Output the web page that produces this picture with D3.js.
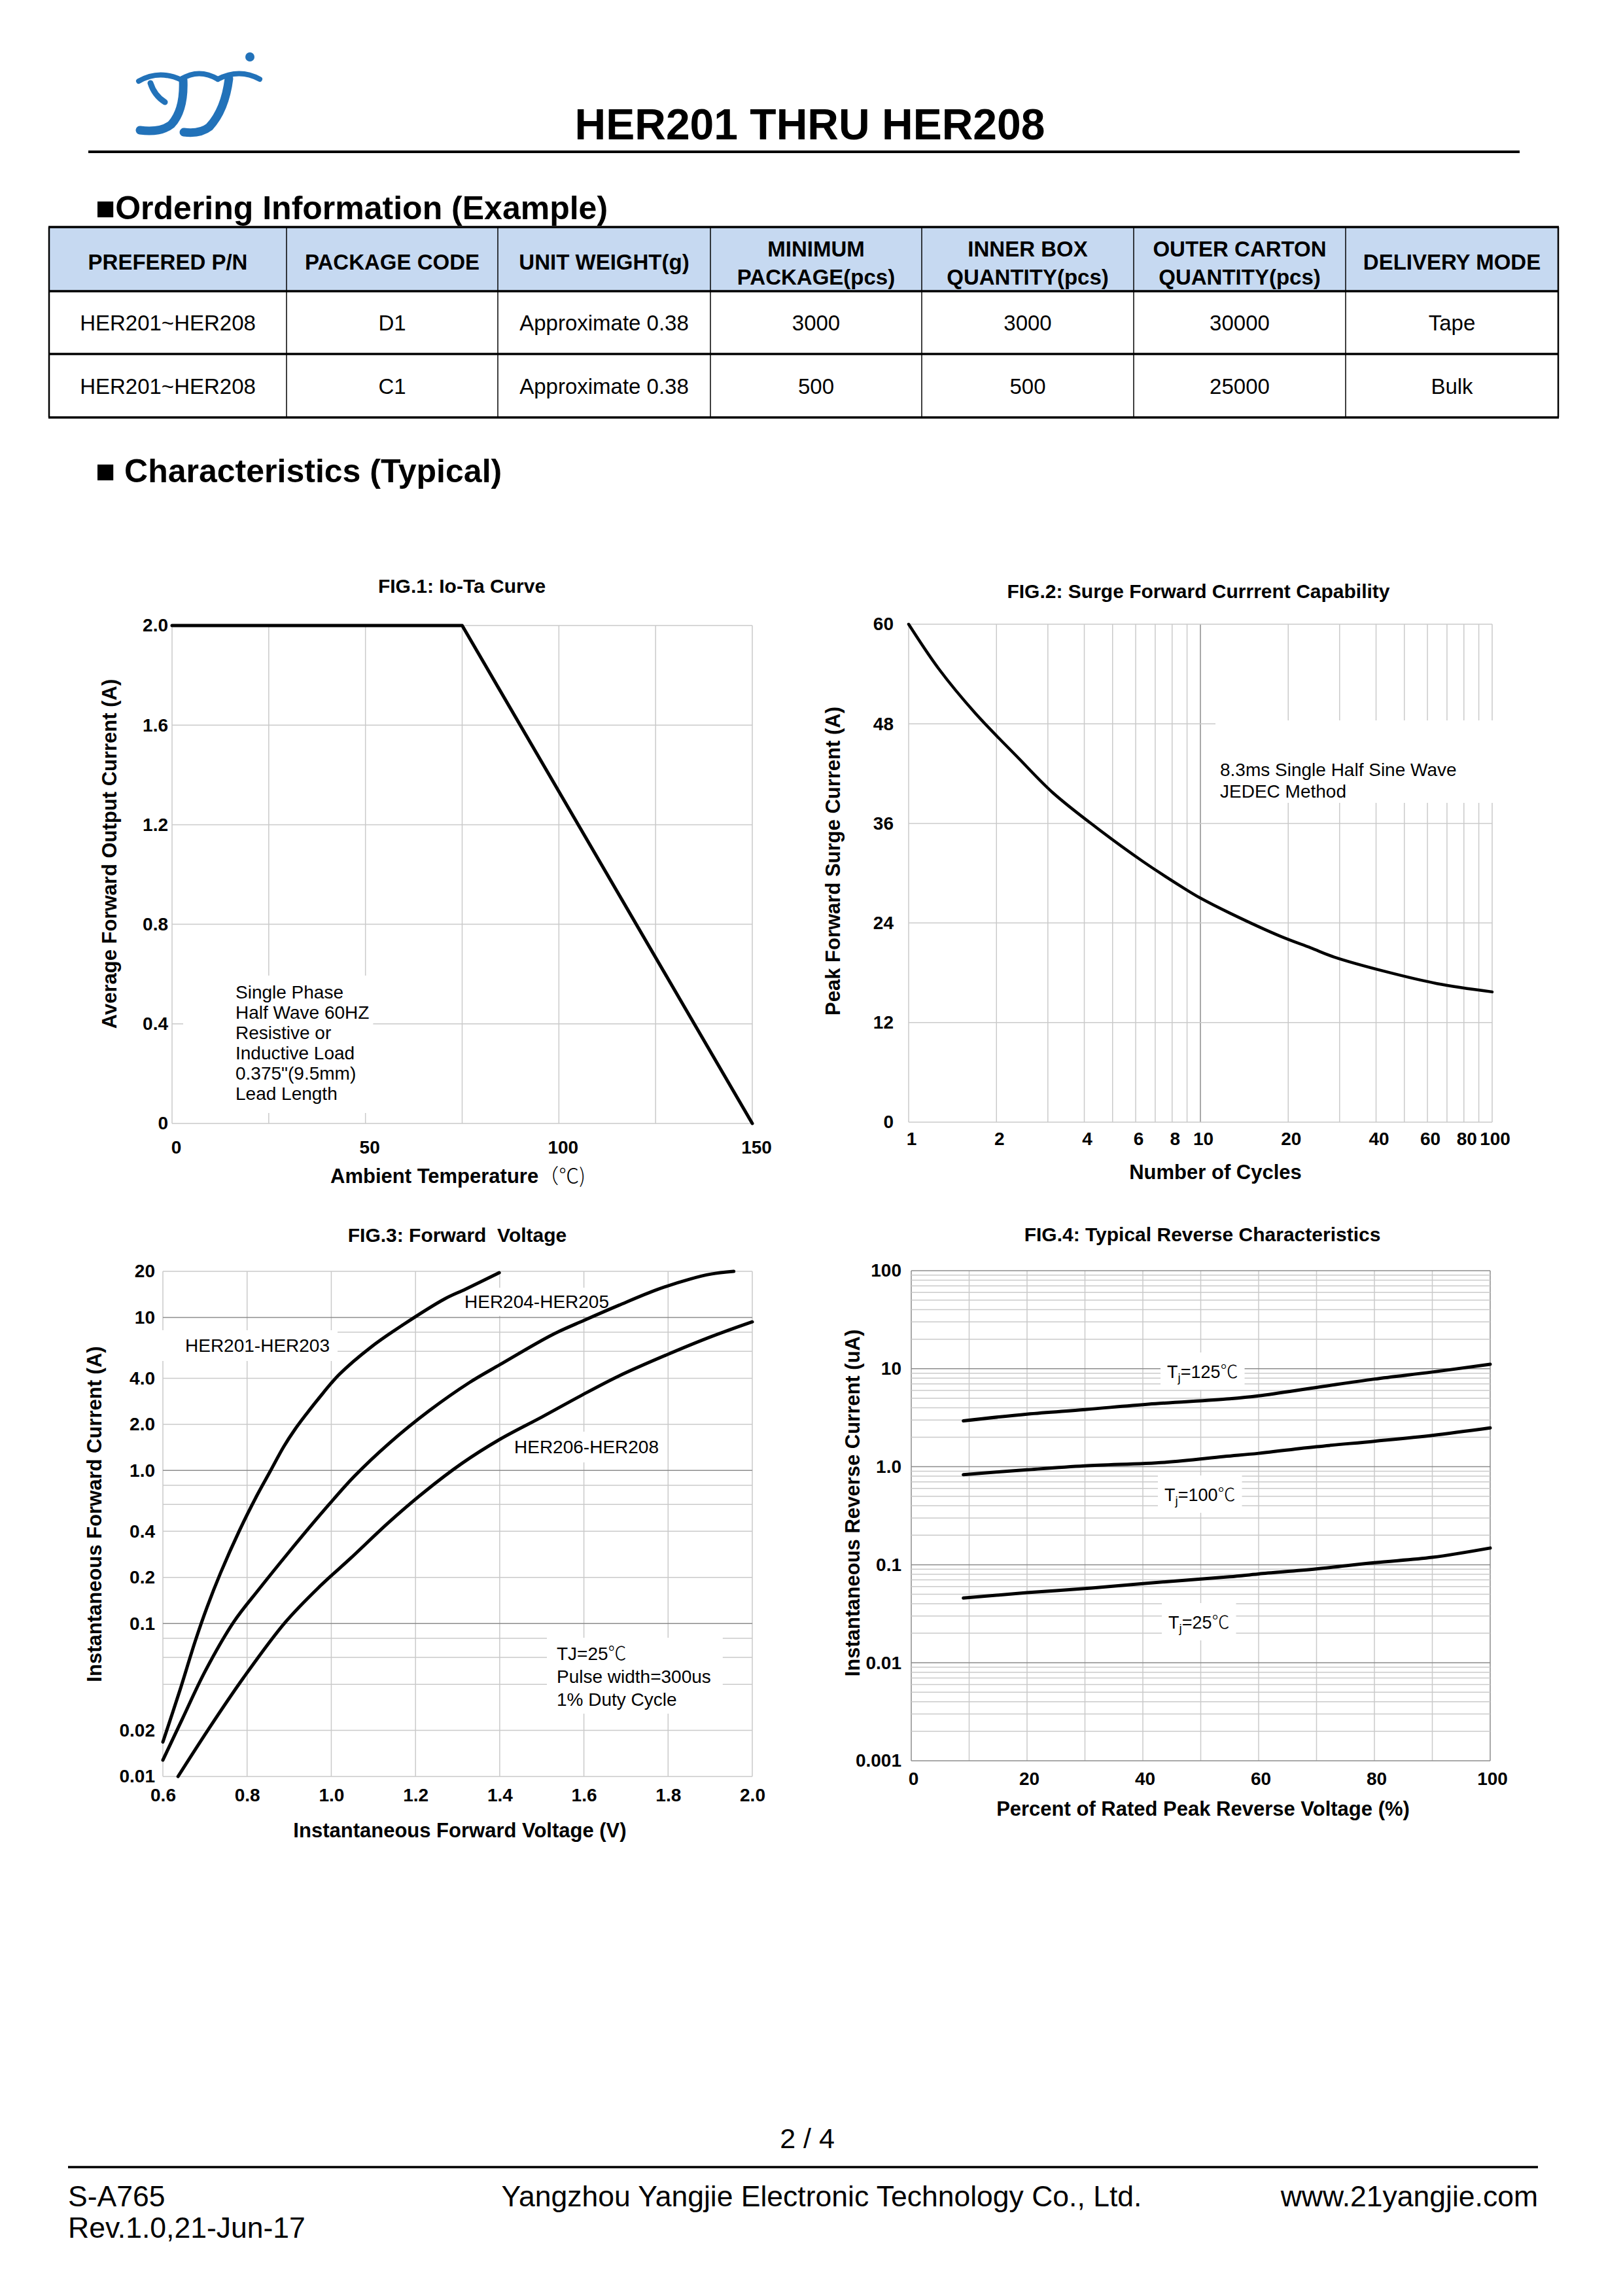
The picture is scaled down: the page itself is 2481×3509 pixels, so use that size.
<!DOCTYPE html>
<html>
<head>
<meta charset="utf-8">
<script src="https://cdn.jsdelivr.net/npm/d3@7"></script>
<style>
  body { margin: 0; background: #fff; }
  svg { display: block; }
</style>
</head>
<body>
<svg id="page" width="2481" height="3509"></svg>
<script>
// ---- ordering table
var tableHead = [["PREFERED P/N"], ["PACKAGE CODE"], ["UNIT WEIGHT(g)"], ["MINIMUM", "PACKAGE(pcs)"],
                 ["INNER BOX", "QUANTITY(pcs)"], ["OUTER CARTON", "QUANTITY(pcs)"], ["DELIVERY MODE"]];
var tableRows = [
  ["HER201~HER208", "D1", "Approximate 0.38", "3000", "3000", "30000", "Tape"],
  ["HER201~HER208", "C1", "Approximate 0.38", "500", "500", "25000", "Bulk"]
];

// ---- FIG.1 Io-Ta
var ioTemp = [0, 75, 150];
var ioCurrent = [2.0, 2.0, 0];
var fig1XTicks = [0, 50, 100, 150];
var fig1XGrid = [0, 25, 50, 75, 100, 125, 150];
var fig1YTicks = [0, 0.4, 0.8, 1.2, 1.6, 2.0];
var fig1Note = ["Single Phase", "Half Wave 60HZ", "Resistive or", "Inductive Load", "0.375\"(9.5mm)", "Lead Length"];

// ---- FIG.2 surge
var surgeCycles = [1, 1.27, 1.69, 2.39, 3.12, 4.4, 6.36, 8.77, 10, 12.6, 18.8, 23.9, 28.7, 43.6, 64.7, 100];
var surgeCurrent = [60, 54.6, 49.3, 43.8, 39.7, 35.5, 31.4, 28.2, 27.0, 25.2, 22.4, 21.0, 19.9, 18.1, 16.7, 15.7];
var fig2XTicks = [1, 2, 4, 6, 8, 10, 20, 40, 60, 80, 100];
var fig2XGrid = [1, 2, 3, 4, 5, 6, 7, 8, 9, 10, 20, 30, 40, 50, 60, 70, 80, 90, 100];
var fig2YTicks = [0, 12, 24, 36, 48, 60];
var fig2Note = ["8.3ms Single Half Sine Wave", "JEDEC Method"];

// ---- FIG.3 forward voltage
var vf1 = [0.6, 0.641, 0.677, 0.705, 0.737, 0.782, 0.823, 0.855, 0.887, 0.914, 0.941, 0.969, 1.019, 1.096, 1.169, 1.269, 1.319, 1.399];
var if1 = [0.0168, 0.037, 0.077, 0.128, 0.214, 0.406, 0.683, 0.988, 1.43, 1.86, 2.34, 2.93, 4.24, 6.45, 8.9, 13.2, 15.3, 19.6];
var vf2 = [0.6, 0.646, 0.700, 0.768, 0.828, 0.896, 0.982, 1.055, 1.137, 1.233, 1.328, 1.401, 1.524, 1.601, 1.683, 1.774, 1.852, 1.902, 1.956];
var if2 = [0.0128, 0.0237, 0.0485, 0.102, 0.167, 0.285, 0.546, 0.917, 1.50, 2.46, 3.75, 4.92, 7.68, 9.58, 12.0, 15.2, 17.8, 19.2, 20];
var vf3 = [0.636, 0.709, 0.791, 0.891, 0.973, 1.046, 1.137, 1.219, 1.310, 1.401, 1.501, 1.592, 1.683, 1.797, 1.902, 2.0];
var if3 = [0.01, 0.0205, 0.044, 0.102, 0.175, 0.267, 0.459, 0.716, 1.11, 1.60, 2.24, 3.07, 4.14, 5.70, 7.48, 9.35];
var fig3XTicks = [0.6, 0.8, 1.0, 1.2, 1.4, 1.6, 1.8, 2.0];
var fig3YTicks = [20, 10, 4, 2, 1, 0.4, 0.2, 0.1, 0.02, 0.01];
var fig3YLabels = ["20", "10", "4.0", "2.0", "1.0", "0.4", "0.2", "0.1", "0.02", "0.01"];
var fig3YGrid = [20, 10, 8, 6, 4, 2, 1, 0.8, 0.6, 0.4, 0.2, 0.1, 0.08, 0.06, 0.04, 0.02, 0.01];
var fig3Names = ["HER201-HER203", "HER204-HER205", "HER206-HER208"];
var fig3Note = ["TJ=25", "Pulse width=300us", "1% Duty Cycle"];

// ---- FIG.4 reverse
var pct125 = [9, 20, 30, 41, 55, 60, 70, 80, 90, 100];
var ir125 = [2.94, 3.44, 3.83, 4.35, 4.94, 5.29, 6.44, 7.84, 9.25, 11.1];
var pct100 = [9, 20, 30, 44, 54, 60, 70, 80, 90, 100];
var ir100 = [0.83, 0.93, 1.02, 1.11, 1.27, 1.37, 1.60, 1.82, 2.09, 2.49];
var pct25 = [9, 20, 30, 41, 55, 60, 70, 80, 90, 100];
var ir25 = [0.0457, 0.0519, 0.0572, 0.065, 0.0753, 0.0806, 0.0906, 0.105, 0.119, 0.148];
var fig4XTicks = [0, 20, 40, 60, 80, 100];
var fig4YTicks = [100, 10, 1, 0.1, 0.01, 0.001];
var fig4YLabels = ["100", "10", "1.0", "0.1", "0.01", "0.001"];
var fig4Temps = ["125", "100", "25"];

var FONT = '"Liberation Sans", Arial, Helvetica, sans-serif';
var CJK = '"Noto Sans CJK SC", "DejaVu Sans", sans-serif';
var svg = d3.select("#page");
svg.append("rect").attr("width", 2481).attr("height", 3509).attr("fill", "#fff");

function txt(g, x, y, s, size, weight, anchor) {
  return g.append("text").attr("x", x).attr("y", y)
    .attr("font-family", FONT).attr("font-size", size)
    .attr("font-weight", weight || "normal")
    .attr("text-anchor", anchor || "start")
    .style("white-space", "pre")
    .text(s);
}

// ---- header
var logo = svg.append("g").attr("fill", "none").attr("stroke", "#2272b9").attr("stroke-linecap", "round");
logo.append("path").attr("d", "M212,124 Q243,106 277,122").attr("stroke-width", 8);
logo.append("path").attr("d", "M230,127 Q236,146 252,156").attr("stroke-width", 9);
logo.append("path").attr("d", "M280,122 Q282,168 262,190 Q246,203 214,199").attr("stroke-width", 13);
logo.append("path").attr("d", "M277,121 Q304,104 333,121").attr("stroke-width", 8);
logo.append("path").attr("d", "M350,120 Q344,168 320,194 Q306,205 281,202").attr("stroke-width", 13);
logo.append("path").attr("d", "M333,121 Q366,104 397,121").attr("stroke-width", 8);
svg.append("circle").attr("cx", 382).attr("cy", 87).attr("r", 7).attr("fill", "#2272b9");

txt(svg, 1238, 213, "HER201 THRU HER208", 66, "bold", "middle");
svg.append("line").attr("x1", 135).attr("x2", 2323).attr("y1", 232).attr("y2", 232)
  .attr("stroke", "#000").attr("stroke-width", 4);

txt(svg, 146, 335, "■Ordering Information (Example)", 50, "bold");

// ---- table
var colEdges = [75, 438, 761, 1086, 1409, 1733, 2057, 2382];
var rowEdges = [347, 445, 541, 638];
var tg = svg.append("g");
tg.append("rect").attr("x", colEdges[0]).attr("y", rowEdges[0])
  .attr("width", colEdges[7] - colEdges[0]).attr("height", rowEdges[1] - rowEdges[0]).attr("fill", "#c6d9f1");
tableHead.forEach(function (lines, i) {
  var cx = (colEdges[i] + colEdges[i + 1]) / 2;
  if (lines.length === 1) txt(tg, cx, 412, lines[0], 33, "bold", "middle");
  else { txt(tg, cx, 392, lines[0], 33, "bold", "middle"); txt(tg, cx, 435, lines[1], 33, "bold", "middle"); }
});
tableRows.forEach(function (row, r) {
  row.forEach(function (cell, i) {
    var cx = (colEdges[i] + colEdges[i + 1]) / 2;
    txt(tg, cx, (rowEdges[r + 1] + rowEdges[r + 2]) / 2 + 12, cell, 33, "normal", "middle");
  });
});
colEdges.forEach(function (x, i) {
  tg.append("line").attr("x1", x).attr("x2", x).attr("y1", rowEdges[0]).attr("y2", rowEdges[3])
    .attr("stroke", "#000").attr("stroke-width", (i === 0 || i === 7) ? 2.5 : 1.5);
});
rowEdges.forEach(function (y) {
  tg.append("line").attr("x1", colEdges[0] - 1).attr("x2", colEdges[7] + 1).attr("y1", y).attr("y2", y)
    .attr("stroke", "#000").attr("stroke-width", 3.5);
});

txt(svg, 146, 737, "■ Characteristics (Typical)", 50, "bold");

// ---- generic chart
function chart(o) {
  var x = o.x, y = o.y;
  var g = svg.append("g");
  var xl = x.range()[0], xr = x.range()[1], yb = y.range()[0], yt = y.range()[1];

  g.selectAll(null).data(o.gridX).join("line")
    .attr("x1", d => x(d)).attr("x2", d => x(d)).attr("y1", yt).attr("y2", yb)
    .attr("stroke", d => (o.darkX || []).indexOf(d) >= 0 ? "#8c8c8c" : "#cacaca").attr("stroke-width", 1.5);
  g.selectAll(null).data(o.gridY).join("line")
    .attr("x1", xl).attr("x2", xr).attr("y1", d => y(d)).attr("y2", d => y(d))
    .attr("stroke", d => (o.darkY || []).indexOf(d) >= 0 ? "#8c8c8c" : "#cacaca").attr("stroke-width", 1.5);

  // notes with white boxes that hide the grid
  (o.notes || []).forEach(function (n) {
    var ng = g.append("g");
    n.lines.forEach(function (s, i) {
      var t = txt(ng, n.x, n.y + i * n.step, s, n.size || 28);
      if (n.sub) {
        t.text(null);
        t.append("tspan").text("T");
        t.append("tspan").attr("font-size", (n.size || 28) * 0.7).attr("dy", 6).text("j");
        t.append("tspan").attr("dy", -6).text("=" + s);
        t.append("tspan").attr("font-family", CJK).attr("font-weight", 300).text("℃");
      } else if (n.degree && i === 0) {
        t.append("tspan").attr("font-family", CJK).attr("font-weight", 300).text("℃");
      }
    });
    var b = ng.node().getBBox(), p = n.pad || [10, 10, 10, 10];
    ng.insert("rect", "text").attr("x", b.x - p[3]).attr("y", b.y - p[0])
      .attr("width", b.width + p[1] + p[3]).attr("height", b.height + p[0] + p[2]).attr("fill", "#fff");
  });

  var line = d3.line().x(d => x(d[0])).y(d => y(d[1])).curve(o.curve || d3.curveCatmullRom.alpha(0.5));
  o.series.forEach(function (s) {
    g.append("path").attr("d", line(d3.zip(s[0], s[1])))
      .attr("fill", "none").attr("stroke", "#000").attr("stroke-width", o.lineWidth || 5)
      .attr("stroke-linejoin", "round").attr("stroke-linecap", "round");
  });

  var ax = g.append("g").attr("transform", "translate(0," + yb + ")")
    .call(d3.axisBottom(x).tickValues(o.xTicks).tickFormat(o.xFormat || (d => d)).tickSize(0).tickPadding(o.xPad));
  ax.select(".domain").remove();
  ax.attr("font-family", FONT).attr("font-size", 28).attr("font-weight", "bold");
  ax.selectAll("text").attr("dx", o.xShift || 0);

  var ay = g.append("g").attr("transform", "translate(" + xl + ",0)")
    .call(d3.axisLeft(y).tickValues(o.yTicks).tickFormat(o.yFormat || (d => d)).tickSize(0).tickPadding(o.yPad));
  ay.select(".domain").remove();
  ay.attr("font-family", FONT).attr("font-size", 28).attr("font-weight", "bold");

  txt(g, o.title[1], o.title[2], o.title[0], 30, "bold", "middle");
  var xlab = txt(g, o.xLabel[1], o.xLabel[2], o.xLabel[0], 31, "bold", "middle");
  if (o.xLabelTail) xlab.append("tspan").attr("font-family", CJK).attr("font-weight", 300).text(o.xLabelTail);
  g.append("text").attr("transform", "translate(" + o.yLabel[1] + "," + o.yLabel[2] + ") rotate(-90)")
    .attr("font-family", FONT).attr("font-size", 31).attr("font-weight", "bold")
    .attr("text-anchor", "middle").attr("dominant-baseline", "central").text(o.yLabel[0]);
  return g;
}

// FIG.1
chart({
  x: d3.scaleLinear().domain([0, 150]).range([263, 1150]),
  y: d3.scaleLinear().domain([0, 2.0]).range([1717, 956]),
  gridX: fig1XGrid, gridY: fig1YTicks,
  xTicks: fig1XTicks, yTicks: fig1YTicks, yFormat: d => d === 0 ? "0" : d3.format(".1f")(d),
  xPad: 26, yPad: 6, xShift: 6,
  series: [[ioTemp, ioCurrent]], curve: d3.curveLinear,
  notes: [{ lines: fig1Note, x: 360, y: 1526, step: 31, pad: [10, 6, 14, 80] }],
  title: ["FIG.1: Io-Ta Curve", 706, 906],
  xLabel: ["Ambient Temperature", 700, 1808], xLabelTail: "（℃)",
  yLabel: ["Average Forward Output Current (A)", 167, 1305]
});

// FIG.2
chart({
  x: d3.scaleLog().domain([1, 100]).range([1389, 2281]),
  y: d3.scaleLinear().domain([0, 60]).range([1715, 954]),
  gridX: fig2XGrid, gridY: fig2YTicks, darkX: [10],
  xTicks: fig2XTicks, yTicks: fig2YTicks, xFormat: d => String(d),
  xPad: 15, yPad: 23, xShift: 4, lineWidth: 4.5,
  series: [[surgeCycles, surgeCurrent]],
  notes: [{ lines: fig2Note, x: 1865, y: 1186, step: 33, pad: [60, 60, 2, 7] }],
  title: ["FIG.2: Surge Forward Currrent Capability", 1832, 914],
  xLabel: ["Number of Cycles", 1858, 1802],
  yLabel: ["Peak Forward Surge Current (A)", 1273, 1316]
});

// FIG.3
chart({
  x: d3.scaleLinear().domain([0.6, 2.0]).range([249, 1150]),
  y: d3.scaleLog().domain([0.01, 20]).range([2715, 1943]),
  gridX: fig3XTicks, gridY: fig3YGrid, darkY: [10, 1, 0.1],
  xTicks: fig3XTicks, yTicks: fig3YTicks, xFormat: d3.format(".1f"),
  yFormat: d => fig3YLabels[fig3YTicks.indexOf(d)],
  xPad: 18, yPad: 12,
  series: [[vf1, if1], [vf2, if2], [vf3, if3]],
  notes: [
    { lines: [fig3Names[0]], x: 283, y: 2066, step: 0, pad: [8, 12, 8, 36] },
    { lines: [fig3Names[1]], x: 710, y: 1999, step: 0, pad: [6, 8, 6, 8] },
    { lines: [fig3Names[2]], x: 786, y: 2221, step: 0, pad: [8, 12, 8, 12] },
    { lines: fig3Note, x: 851, y: 2537, step: 35, degree: true, pad: [2, 18, 6, 15] }
  ],
  title: ["FIG.3: Forward  Voltage", 699, 1898],
  xLabel: ["Instantaneous Forward Voltage (V)", 703, 2808],
  yLabel: ["Instantaneous Forward Current (A)", 144, 2314]
});

// FIG.4
var fig4YGrid = [];
[0.001, 0.01, 0.1, 1, 10].forEach(function (dec) {
  for (var k = 1; k < 10; k++) fig4YGrid.push(+(dec * k).toPrecision(3));
});
fig4YGrid.push(100);
chart({
  x: d3.scaleLinear().domain([0, 100]).range([1393, 2278]),
  y: d3.scaleLog().domain([0.001, 100]).range([2691, 1942]),
  gridX: d3.range(0, 101, 10), gridY: fig4YGrid, darkY: [0.001, 0.01, 0.1, 1, 10, 100], darkX: [0, 100],
  xTicks: fig4XTicks, yTicks: fig4YTicks,
  yFormat: d => fig4YLabels[fig4YTicks.indexOf(d)],
  xPad: 17, yPad: 15, xShift: 3,
  series: [[pct125, ir125], [pct100, ir100], [pct25, ir25]],
  notes: [
    { lines: [fig4Temps[0]], x: 1784, y: 2106, step: 0, sub: true, size: 27, pad: [8, 10, 8, 10] },
    { lines: [fig4Temps[1]], x: 1780, y: 2294, step: 0, sub: true, size: 27, pad: [8, 10, 8, 10] },
    { lines: [fig4Temps[2]], x: 1786, y: 2489, step: 0, sub: true, size: 27, pad: [8, 10, 8, 10] }
  ],
  title: ["FIG.4: Typical Reverse Characteristics", 1838, 1897],
  xLabel: ["Percent of Rated Peak Reverse Voltage (%)", 1839, 2775],
  yLabel: ["Instantaneous Reverse Current (uA)", 1303, 2297]
});

// ---- footer
txt(svg, 1234, 3283, "2 / 4", 43, "normal", "middle");
svg.append("line").attr("x1", 104).attr("x2", 2351).attr("y1", 3312).attr("y2", 3312)
  .attr("stroke", "#000").attr("stroke-width", 3.5);
txt(svg, 104, 3372, "S-A765", 44.5);
txt(svg, 104, 3420, "Rev.1.0,21-Jun-17", 44.5);
txt(svg, 1256, 3372, "Yangzhou Yangjie Electronic Technology Co., Ltd.", 44.5, "normal", "middle");
txt(svg, 2351, 3372, "www.21yangjie.com", 44.5, "normal", "end");
</script>
</body>
</html>
